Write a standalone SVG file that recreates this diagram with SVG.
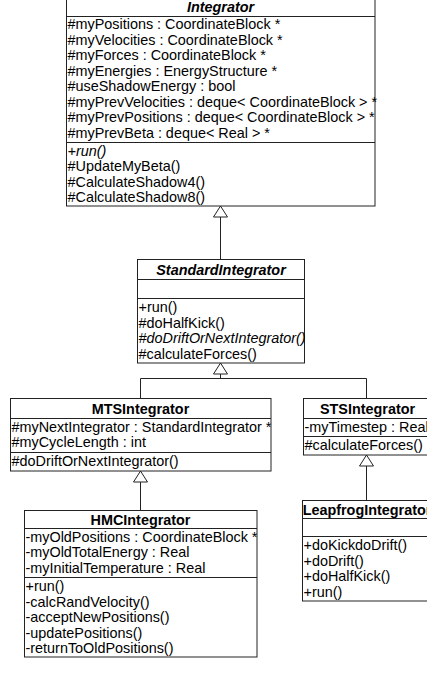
<svg xmlns="http://www.w3.org/2000/svg" width="427" height="676" viewBox="0 0 427 676">
  <style>
    .box { fill: #fff; stroke: #222; stroke-width: 1; }
    .sep { stroke: #222; stroke-width: 1; }
    .t { font-family: "Liberation Sans", Arial, sans-serif; font-size: 14.4px; fill: #000; }
    .title { font-weight: bold; text-anchor: middle; }
    .abs { font-style: italic; }
    .edge { fill: none; stroke: #222; stroke-width: 1; }
    .head { fill: #fff; stroke: #222; stroke-width: 1; }
  </style>
  <rect width="427" height="676" fill="#fff"/>

  <!-- generalization connectors -->
  <g id="connectors">
    <path class="edge" d="M220.5,217 V259.5"/>
    <polygon class="head" points="220.5,206 213.5,217 227.5,217"/>
    <path class="edge" d="M220.5,374 V378.5 M140.5,378.5 H366.5 M140.5,378.5 V398.5 M366.5,378.5 V398.5"/>
    <polygon class="head" points="220.5,363 213.5,374 227.5,374"/>
    <path class="edge" d="M140.5,482 V510.5"/>
    <polygon class="head" points="140.5,471 133.5,482 147.5,482"/>
    <path class="edge" d="M366.5,466 V500.5"/>
    <polygon class="head" points="366.5,455 359.5,466 373.5,466"/>
  </g>

  <!-- Integrator -->
  <g id="Integrator">
    <rect class="box" x="66.5" y="-1" width="308.5" height="207"/>
    <line class="sep" x1="66.5" y1="16.5" x2="375" y2="16.5"/>
    <line class="sep" x1="66.5" y1="142.5" x2="375" y2="142.5"/>
    <text class="t title abs" x="220.5" y="12">Integrator</text>
    <text class="t" x="67.5" y="29">#myPositions : CoordinateBlock *</text>
    <text class="t" x="67.5" y="44.5">#myVelocities : CoordinateBlock *</text>
    <text class="t" x="67.5" y="60">#myForces : CoordinateBlock *</text>
    <text class="t" x="67.5" y="75.5">#myEnergies : EnergyStructure *</text>
    <text class="t" x="67.5" y="91">#useShadowEnergy : bool</text>
    <text class="t" x="67.5" y="106.5">#myPrevVelocities : deque&lt; CoordinateBlock &gt; *</text>
    <text class="t" x="67.5" y="122">#myPrevPositions : deque&lt; CoordinateBlock &gt; *</text>
    <text class="t" x="67.5" y="137.5">#myPrevBeta : deque&lt; Real &gt; *</text>
    <text class="t abs" x="67.5" y="155.5">+run()</text>
    <text class="t" x="67.5" y="171">#UpdateMyBeta()</text>
    <text class="t" x="67.5" y="186.5">#CalculateShadow4()</text>
    <text class="t" x="67.5" y="202">#CalculateShadow8()</text>
  </g>

  <!-- StandardIntegrator -->
  <g id="StandardIntegrator">
    <rect class="box" x="137.5" y="259.5" width="167" height="103.5"/>
    <line class="sep" x1="137.5" y1="279.5" x2="304.5" y2="279.5"/>
    <line class="sep" x1="137.5" y1="298.5" x2="304.5" y2="298.5"/>
    <text class="t title abs" x="221" y="275">StandardIntegrator</text>
    <text class="t" x="138.5" y="312">+run()</text>
    <text class="t" x="138.5" y="327.5">#doHalfKick()</text>
    <text class="t abs" x="138.5" y="343">#doDriftOrNextIntegrator()</text>
    <text class="t" x="138.5" y="358.5">#calculateForces()</text>
  </g>

  <!-- MTSIntegrator -->
  <g id="MTSIntegrator">
    <rect class="box" x="10.5" y="398.5" width="260.5" height="72.5"/>
    <line class="sep" x1="10.5" y1="418.5" x2="271" y2="418.5"/>
    <line class="sep" x1="10.5" y1="452.5" x2="271" y2="452.5"/>
    <text class="t title" x="140.5" y="413.5">MTSIntegrator</text>
    <text class="t" x="11.5" y="431.5">#myNextIntegrator : StandardIntegrator *</text>
    <text class="t" x="11.5" y="447">#myCycleLength : int</text>
    <text class="t" x="11.5" y="466">#doDriftOrNextIntegrator()</text>
  </g>

  <!-- STSIntegrator -->
  <g id="STSIntegrator">
    <rect class="box" x="303.5" y="398.5" width="128" height="56.5"/>
    <line class="sep" x1="303.5" y1="418.5" x2="431.5" y2="418.5"/>
    <line class="sep" x1="303.5" y1="436.5" x2="431.5" y2="436.5"/>
    <text class="t title" x="367.5" y="413.5">STSIntegrator</text>
    <text class="t" x="304.5" y="431.5">-myTimestep : Real</text>
    <text class="t" x="304.5" y="450">#calculateForces()</text>
  </g>

  <!-- HMCIntegrator -->
  <g id="HMCIntegrator">
    <rect class="box" x="24.5" y="510.5" width="232.5" height="146.5"/>
    <line class="sep" x1="24.5" y1="528.5" x2="257" y2="528.5"/>
    <line class="sep" x1="24.5" y1="577.5" x2="257" y2="577.5"/>
    <text class="t title" x="140.5" y="524.5">HMCIntegrator</text>
    <text class="t" x="25.5" y="541.5">-myOldPositions : CoordinateBlock *</text>
    <text class="t" x="25.5" y="557">-myOldTotalEnergy : Real</text>
    <text class="t" x="25.5" y="572.5">-myInitialTemperature : Real</text>
    <text class="t" x="25.5" y="591">+run()</text>
    <text class="t" x="25.5" y="606.5">-calcRandVelocity()</text>
    <text class="t" x="25.5" y="622">-acceptNewPositions()</text>
    <text class="t" x="25.5" y="637.5">-updatePositions()</text>
    <text class="t" x="25.5" y="653">-returnToOldPositions()</text>
  </g>

  <!-- LeapfrogIntegrator -->
  <g id="LeapfrogIntegrator">
    <rect class="box" x="302.5" y="500.5" width="129" height="100.5"/>
    <line class="sep" x1="302.5" y1="518.5" x2="431.5" y2="518.5"/>
    <line class="sep" x1="302.5" y1="536.5" x2="431.5" y2="536.5"/>
    <text class="t title" x="367" y="514.5">LeapfrogIntegrator</text>
    <text class="t" x="303.5" y="550">+doKickdoDrift()</text>
    <text class="t" x="303.5" y="565.5">+doDrift()</text>
    <text class="t" x="303.5" y="581">+doHalfKick()</text>
    <text class="t" x="303.5" y="596.5">+run()</text>
  </g>
</svg>
